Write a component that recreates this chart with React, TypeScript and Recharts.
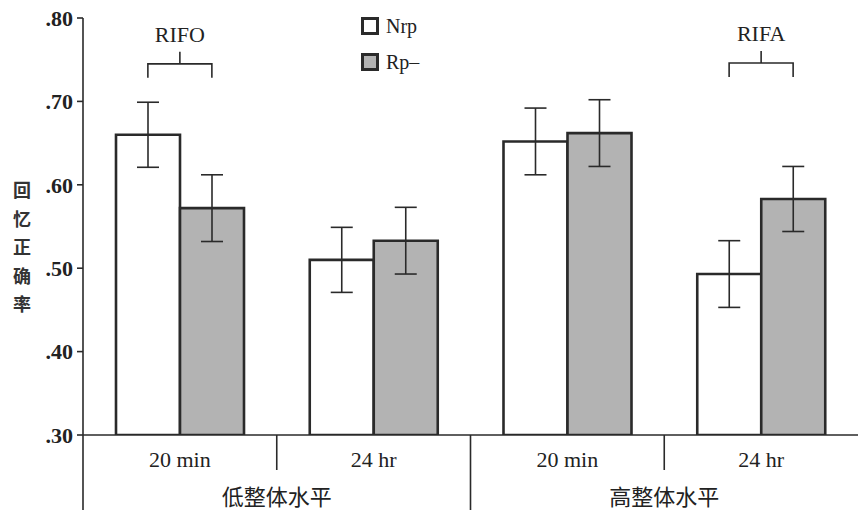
import React from 'react';
import { BarChart, Bar, XAxis, YAxis, ErrorBar, ReferenceDot, Legend } from 'recharts';

const categoryKeys = ['low-20min', 'low-24hr', 'high-20min', 'high-24hr'];
const tickLabels = ['20 min', '24 hr', '20 min', '24 hr'];
const groupLabels = ['低整体水平', '高整体水平'];
const nrpValues = [0.66, 0.51, 0.652, 0.493];
const nrpErrors = [0.039, 0.039, 0.04, 0.04];
const rpValues = [0.572, 0.533, 0.662, 0.583];
const rpErrors = [0.04, 0.04, 0.04, 0.039];
const yTicks = [0.3, 0.4, 0.5, 0.6, 0.7, 0.8];
const yLabel = ['回', '忆', '正', '确', '率'];
const annotationKeys = ['low-20min', 'high-24hr'];
const annotationLabels = ['RIFO', 'RIFA'];
const annotationLevels = [0.745, 0.746];

const data = categoryKeys.map((k, i) => ({
  key: k,
  nrp: nrpValues[i],
  nrpErr: nrpErrors[i],
  rp: rpValues[i],
  rpErr: rpErrors[i],
}));

const W = 858;
const H = 514;
const Y_AXIS_W = 83;
const X_AXIS_H = 79;
const BAND = (W - Y_AXIS_W) / categoryKeys.length;
const INK = '#2a2a2a';
const SERIF = '"Liberation Serif", "DejaVu Serif", serif';
const CJK = '"Noto Sans CJK SC", sans-serif';
const GRAY = '#b3b3b3';

function CategoryTick(props: any) {
  const { x, y, payload } = props;
  const i = categoryKeys.indexOf(payload.value);
  const left = x - BAND / 2;
  const groupStart = i % 2 === 0;
  return (
    <g>
      <line x1={left} x2={left} y1={y} y2={groupStart ? y + 75 : y + 35} stroke={INK} strokeWidth={1.6} />
      <text x={x} y={y + 32} textAnchor="middle" fontFamily={SERIF} fontSize={22} fill="#222">
        {tickLabels[i]}
      </text>
      {groupStart && (
        <text x={x + BAND / 2} y={y + 70} textAnchor="middle" fontFamily={CJK} fontSize={22} fill="#222">
          {groupLabels[i / 2]}
        </text>
      )}
    </g>
  );
}

function Bracket(label: string) {
  return (props: any) => {
    const { cx, cy } = props;
    const half = 32;
    return (
      <g>
        <text x={cx} y={cy - 22} textAnchor="middle" fontFamily={SERIF} fontSize={22} fill="#222">
          {label}
        </text>
        <path
          d={`M${cx - half},${cy + 14} V${cy} H${cx + half} V${cy + 14} M${cx},${cy} V${cy - 12}`}
          fill="none"
          stroke={INK}
          strokeWidth={1.6}
        />
      </g>
    );
  };
}

function YLabel(props: any) {
  const vb = props.viewBox || { x: 0 };
  return (
    <text fontFamily={CJK} fontSize={18} fontWeight={700} fill="#333" textAnchor="middle">
      {yLabel.map((c, i) => (
        <tspan key={i} x={vb.x + 22} y={197 + i * 28.5}>
          {c}
        </tspan>
      ))}
    </text>
  );
}

function LegendContent(props: any) {
  const items = props.payload || [];
  return (
    <div style={{ display: 'flex', flexDirection: 'column' }}>
      {items.map((e: any, i: number) => (
        <div key={i} style={{ display: 'flex', alignItems: 'center', height: 36 }}>
          <span
            style={{
              display: 'inline-block',
              width: 12,
              height: 12,
              border: `3px solid ${INK}`,
              background: e.color,
              marginRight: 7,
            }}
          />
          <span style={{ fontFamily: SERIF, fontSize: 20, color: '#222' }}>{e.value}</span>
        </div>
      ))}
    </div>
  );
}

export default function App() {
  return (
    <div style={{ position: 'absolute', left: 0, top: 0, width: W, height: H, background: '#fff' }}>
      <BarChart
        width={W}
        height={H}
        data={data}
        margin={{ top: 18, right: 0, left: 0, bottom: 0 }}
        barCategoryGap={33}
        barGap={0}
      >
        <XAxis
          dataKey="key"
          height={X_AXIS_H}
          interval={0}
          tickLine={false}
          tickSize={0}
          tickMargin={0}
          axisLine={{ stroke: INK, strokeWidth: 1.6 }}
          tick={<CategoryTick />}
        />
        <YAxis
          width={Y_AXIS_W}
          domain={[0.3, 0.8]}
          ticks={yTicks}
          allowDataOverflow
          tickSize={6}
          tickMargin={4}
          tickLine={{ stroke: INK, strokeWidth: 1.6 }}
          axisLine={{ stroke: INK, strokeWidth: 1.6 }}
          tick={{ fontFamily: SERIF, fontSize: 22, fontWeight: 700, fill: '#222' }}
          tickFormatter={(v: number) => v.toFixed(2).replace(/^0/, '')}
          label={<YLabel />}
        />
        <Legend
          layout="vertical"
          align="center"
          verticalAlign="middle"
          content={<LegendContent />}
          wrapperStyle={{ left: 361, top: 8, width: 110, height: 72 }}
        />
        <Bar dataKey="nrp" name="Nrp" fill="#ffffff" stroke={INK} strokeWidth={2.6} isAnimationActive={false}>
          <ErrorBar dataKey="nrpErr" width={11} stroke={INK} strokeWidth={1.6} isAnimationActive={false} />
        </Bar>
        <Bar dataKey="rp" name="Rp–" fill={GRAY} stroke={INK} strokeWidth={2.6} isAnimationActive={false}>
          <ErrorBar dataKey="rpErr" width={11} stroke={INK} strokeWidth={1.6} isAnimationActive={false} />
        </Bar>
        {annotationKeys.map((k, i) => (
          <ReferenceDot
            key={k}
            x={k}
            y={annotationLevels[i]}
            r={0}
            ifOverflow="visible"
            shape={Bracket(annotationLabels[i])}
          />
        ))}
      </BarChart>
    </div>
  );
}
